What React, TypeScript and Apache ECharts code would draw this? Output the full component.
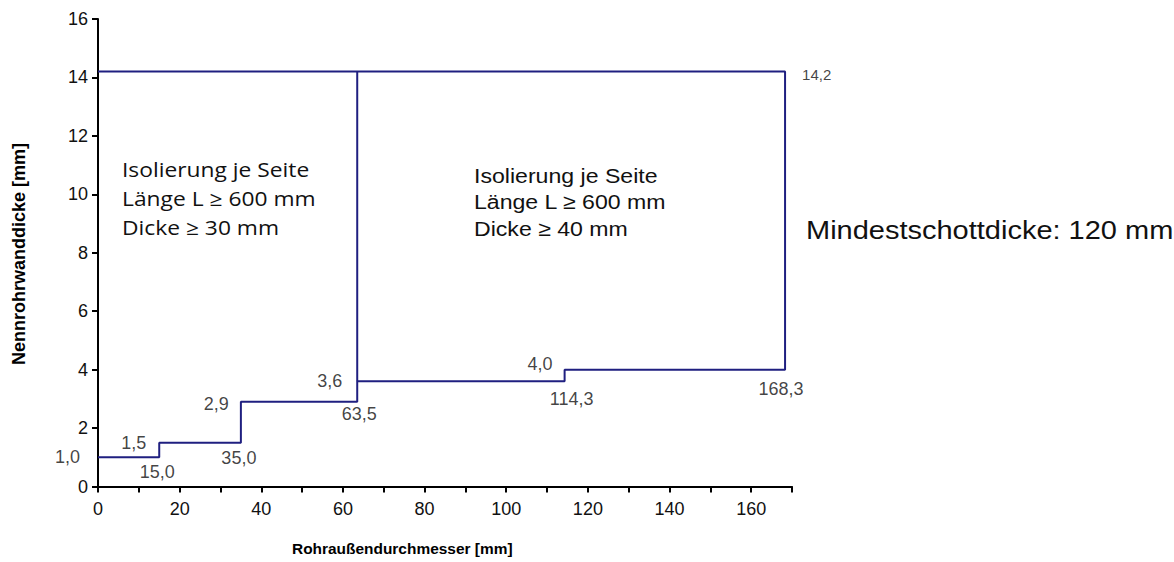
import React, { useEffect, useRef } from "react";
import * as echarts from "echarts";

// Data
const diameterBreaks = [0, 15.0, 35.0, 63.5, 114.3, 168.3]; // Rohraußendurchmesser [mm]
const wallThickness = [1.0, 1.5, 2.9, 3.6, 4.0]; // Nennrohrwanddicke [mm]
const maxWallThickness = 14.2;
const splitDiameter = 63.5;
const xTickLabels = [0, 20, 40, 60, 80, 100, 120, 140, 160];
const yTickLabels = [0, 2, 4, 6, 8, 10, 12, 14, 16];
const leftNote = ["Isolierung je Seite", "Länge L ≥ 600 mm", "Dicke ≥ 30 mm"];
const rightNote = ["Isolierung je Seite", "Länge L ≥ 600 mm", "Dicke ≥ 40 mm"];
const sideNote = "Mindestschottdicke: 120 mm";

// label placement (style only)
const valueLabelPlace = [
  { distance: 18, offset: [0, 0] },
  { distance: 13, offset: [0, 0] },
  { distance: 12, offset: [0, 2] },
  { distance: 15, offset: [0, 0] },
  { distance: 12, offset: [0, -6] },
];
const diamLabelPlace = [
  { distance: 6, offset: [-2, 0] },
  { distance: 6, offset: [-2, 0] },
  { distance: 3, offset: [2, 0] },
  { distance: 9, offset: [7, 0] },
  { distance: 10, offset: [-4, 0] },
];

const fmt = (v: number) => v.toFixed(1).replace(".", ",");

export default function App() {
  const ref = useRef<HTMLDivElement>(null);
  useEffect(() => {
    if (!ref.current) return;
    const chart = echarts.init(ref.current, null, { renderer: "svg" });

    // outline path: steps then up to max and back along top
    const outline: [number, number][] = [];
    for (let i = 0; i < wallThickness.length; i++) {
      outline.push([diameterBreaks[i], wallThickness[i]]);
      outline.push([diameterBreaks[i + 1], wallThickness[i]]);
    }
    const lastX = diameterBreaks[diameterBreaks.length - 1];
    outline.push([lastX, maxWallThickness]);
    outline.push([diameterBreaks[0], maxWallThickness]);

    const splitLine: [number, number][] = [
      [splitDiameter, wallThickness[3]],
      [splitDiameter, maxWallThickness],
    ];

    const labelFont = {
      fontFamily: "Liberation Sans",
      fontSize: 18,
      color: "#111",
    };

    const valueLabels: any[] = wallThickness.map((t, i) => ({
      value: [diameterBreaks[i], t],
      label: {
        show: true,
        formatter: fmt(t),
        position: "left",
        distance: valueLabelPlace[i].distance,
        offset: valueLabelPlace[i].offset,
        ...labelFont,
      },
    }));
    const diamLabels: any[] = wallThickness.map((t, i) => ({
      value: [diameterBreaks[i + 1], t],
      label: {
        show: true,
        formatter: fmt(diameterBreaks[i + 1]),
        position: "bottom",
        distance: diamLabelPlace[i].distance,
        offset: diamLabelPlace[i].offset,
        ...labelFont,
      },
    }));
    const topLabel: any = {
      value: [lastX, maxWallThickness],
      label: {
        show: true,
        formatter: fmt(maxWallThickness),
        position: "right",
        distance: 17,
        offset: [0, 3],
        ...labelFont,
        fontSize: 15,
      },
    };

    const noteText = (
      lines: string[],
      x: number,
      y: number,
      family: string,
      size: number,
      lh: number,
      sx: number
    ) => ({
      type: "text",
      x,
      y,
      scaleX: sx,
      style: {
        text: lines.join("\n"),
        fontFamily: family,
        fontSize: size,
        lineHeight: lh,
        fill: "#111",
      },
    });

    chart.setOption({
      animation: false,
      backgroundColor: "#fff",
      grid: { left: 98, right: 382, top: 19, bottom: 75.5, containLabel: false },
      xAxis: {
        type: "value",
        min: 0,
        max: 170,
        interval: 10,
        axisLine: { show: true, lineStyle: { color: "#000", width: 2 } },
        axisTick: { show: true, inside: false, length: 6, lineStyle: { color: "#000", width: 2 } },
        splitLine: { show: false },
        axisLabel: {
          margin: 13,
          ...labelFont,
          formatter: (v: number) => (xTickLabels.includes(v) ? String(v) : ""),
        },
      },
      yAxis: {
        type: "value",
        min: 0,
        max: 16,
        interval: 2,
        axisLine: { show: true, lineStyle: { color: "#000", width: 2 } },
        axisTick: { show: true, inside: false, length: 6, lineStyle: { color: "#000", width: 2 } },
        splitLine: { show: false },
        axisLabel: {
          margin: 10,
          ...labelFont,
          formatter: (v: number) => (yTickLabels.includes(v) ? String(v) : ""),
        },
      },
      series: [
        {
          type: "line",
          data: outline,
          symbol: "none",
          lineStyle: { color: "#1f1f80", width: 2 },
          z: 3,
        },
        {
          type: "line",
          data: splitLine,
          symbol: "none",
          lineStyle: { color: "#1f1f80", width: 2 },
          z: 3,
        },
        {
          type: "scatter",
          symbolSize: 0,
          data: [...valueLabels, ...diamLabels, topLabel],
          z: 4,
        },
      ],
      graphic: [
        noteText(leftNote, 122, 155, "Open Sans", 20, 29, 1.14),
        noteText(rightNote, 474, 162.5, "Liberation Sans", 21, 26.5, 1.1),
        {
          type: "text",
          x: 806,
          y: 218,
          scaleX: 1.16,
          style: { text: sideNote, fontFamily: "Liberation Sans", fontSize: 25, fill: "#111" },
        },
        {
          type: "text",
          x: 292,
          y: 541,
          scaleX: 1.03,
          style: {
            text: "Rohraußendurchmesser [mm]",
            fontFamily: "Liberation Sans",
            fontSize: 15,
            fontWeight: "bold",
            fill: "#000",
          },
        },
        {
          type: "text",
          x: 18.5,
          y: 254,
          rotation: Math.PI / 2,
          style: {
            text: "Nennrohrwanddicke [mm]",
            fontFamily: "Liberation Sans",
            fontSize: 18,
            fontWeight: "bold",
            fill: "#000",
            align: "center",
            verticalAlign: "middle",
          },
        },
      ],
    });
    return () => chart.dispose();
  }, []);
  return (
    <div
      ref={ref}
      style={{ position: "absolute", left: 0, top: 0, width: 1174, height: 562 }}
    />
  );
}
